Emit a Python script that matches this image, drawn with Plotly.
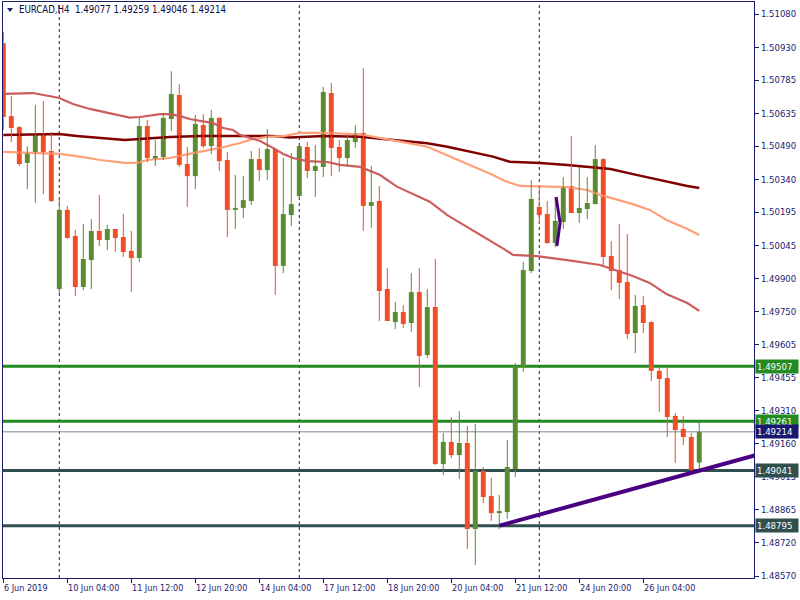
import plotly.graph_objects as go

# ---------------- data ----------------
opens = [1.50950, 1.50624, 1.50575, 1.50415, 1.50459, 1.50544, 1.50468, 1.49852, 1.50205, 1.50089,
         1.49861, 1.49981, 1.50111, 1.50071, 1.50120, 1.50084, 1.50022, 1.49990, 1.50580, 1.50432,
         1.50441, 1.50611, 1.50718, 1.50410, 1.50356, 1.50584, 1.50490, 1.50616, 1.50428, 1.50205,
         1.50214, 1.50245, 1.50432, 1.50383, 1.50477, 1.49955, 1.50182, 1.50267, 1.50486, 1.50379,
         1.50397, 1.50727, 1.50486, 1.50437, 1.50508, 1.50549, 1.50223, 1.50245, 1.49852, 1.49704,
         1.49749, 1.49700, 1.49838, 1.49557, 1.49771, 1.49070, 1.49169, 1.49110, 1.49164, 1.48780,
         1.49039, 1.48927, 1.48851, 1.48856, 1.49048, 1.49503, 1.49932, 1.50218, 1.50187, 1.50057,
         1.50151, 1.50312, 1.50191, 1.50209, 1.50231, 1.50432, 1.49999, 1.49937, 1.49883, 1.49655,
         1.49780, 1.49704, 1.49486, 1.49454, 1.49285, 1.49227, 1.49191, 1.49077]
highs = [1.51000, 1.50714, 1.50580, 1.50490, 1.50674, 1.50691, 1.50553, 1.50258, 1.50223, 1.50115,
         1.50142, 1.50164, 1.50272, 1.50138, 1.50120, 1.50187, 1.50111, 1.50620, 1.50607, 1.50517,
         1.50638, 1.50825, 1.50767, 1.50486, 1.50629, 1.50633, 1.50651, 1.50620, 1.50464, 1.50361,
         1.50356, 1.50468, 1.50482, 1.50566, 1.50482, 1.50437, 1.50459, 1.50495, 1.50508, 1.50495,
         1.50754, 1.50772, 1.50517, 1.50544, 1.50584, 1.50839, 1.50401, 1.50312, 1.49946, 1.49794,
         1.49780, 1.49923, 1.49946, 1.49852, 1.49986, 1.49209, 1.49280, 1.49307, 1.49240, 1.49249,
         1.49057, 1.49008, 1.48932, 1.49177, 1.49521, 1.49972, 1.50339, 1.50312, 1.50245, 1.50263,
         1.50352, 1.50535, 1.50397, 1.50352, 1.50495, 1.50437, 1.50066, 1.50142, 1.50097, 1.49825,
         1.49821, 1.49709, 1.49503, 1.49503, 1.49298, 1.49285, 1.49209, 1.49259]
lows = [1.50562, 1.50508, 1.50401, 1.50298, 1.50236, 1.50276, 1.50240, 1.49834, 1.50075, 1.49821,
        1.49847, 1.49852, 1.50044, 1.50026, 1.50017, 1.49995, 1.49838, 1.49972, 1.50419, 1.50401,
        1.50428, 1.50557, 1.50397, 1.50218, 1.50298, 1.50482, 1.50455, 1.50379, 1.50084, 1.50120,
        1.50169, 1.50227, 1.50334, 1.50339, 1.49825, 1.49923, 1.50133, 1.50258, 1.50348, 1.50263,
        1.50352, 1.50356, 1.50374, 1.50397, 1.50482, 1.50111, 1.50124, 1.49709, 1.49709, 1.49673,
        1.49678, 1.49660, 1.49414, 1.49544, 1.49066, 1.49021, 1.49097, 1.49003, 1.48691, 1.48619,
        1.48896, 1.48816, 1.48780, 1.48825, 1.49012, 1.49481, 1.49923, 1.50142, 1.50053, 1.50039,
        1.50120, 1.50191, 1.50147, 1.50164, 1.50231, 1.49955, 1.49847, 1.49807, 1.49629, 1.49566,
        1.49655, 1.49441, 1.49303, 1.49191, 1.49075, 1.49155, 1.49030, 1.49046]
closes = [1.50620, 1.50571, 1.50410, 1.50459, 1.50540, 1.50464, 1.50245, 1.50205, 1.50080, 1.49861,
          1.49986, 1.50111, 1.50071, 1.50120, 1.50080, 1.50017, 1.49990, 1.50580, 1.50437, 1.50446,
          1.50616, 1.50723, 1.50406, 1.50356, 1.50589, 1.50490, 1.50616, 1.50423, 1.50205, 1.50214,
          1.50249, 1.50432, 1.50383, 1.50477, 1.49955, 1.50187, 1.50231, 1.50490, 1.50379, 1.50401,
          1.50732, 1.50482, 1.50437, 1.50517, 1.50549, 1.50223, 1.50240, 1.49843, 1.49709, 1.49749,
          1.49696, 1.49838, 1.49553, 1.49771, 1.49070, 1.49169, 1.49110, 1.49164, 1.48780, 1.49039,
          1.48923, 1.48851, 1.48860, 1.49057, 1.49508, 1.49937, 1.50254, 1.50182, 1.50057, 1.50156,
          1.50312, 1.50191, 1.50214, 1.50236, 1.50432, 1.49995, 1.49932, 1.49879, 1.49651, 1.49776,
          1.49700, 1.49486, 1.49450, 1.49280, 1.49222, 1.49191, 1.49043, 1.49214]

x_tick_idx = [0, 8, 16, 24, 32, 40, 48, 56, 64, 72, 80]
x_tick_text = ["6 Jun 2019", "10 Jun 04:00", "11 Jun 12:00", "12 Jun 20:00", "14 Jun 04:00",
               "17 Jun 12:00", "18 Jun 20:00", "20 Jun 04:00", "21 Jun 12:00", "24 Jun 20:00",
               "26 Jun 04:00"]
y_tick_vals = [1.51080, 1.50930, 1.50785, 1.50635, 1.50490, 1.50340, 1.50195, 1.50045, 1.49900,
               1.49750, 1.49605, 1.49455, 1.49310, 1.49160, 1.49015, 1.48865, 1.48720, 1.48570]
week_sep_idx = [7, 37, 67]

ma_fast_x = [0, 3.7, 7, 8.7, 10.8, 13.7, 15.2, 15.8, 17.1, 19.6, 20.8, 22.1, 23.3, 24.6, 26.2, 27.5,
             28.7, 29.6, 32.1, 33.7, 35, 36.2, 38, 40.5, 42.1, 44.6, 47.1, 49.2, 51.2, 53.3, 55.5,
             58.3, 61.2, 62.7, 63.7, 66.7, 70.5, 74.6, 78.7, 80.8, 82.9, 85.5, 87]
ma_fast_y = [1.50723, 1.50727, 1.50705, 1.50678, 1.50656, 1.50633, 1.50620, 1.50617, 1.50620, 1.50633,
             1.50633, 1.50624, 1.50611, 1.50602, 1.50593, 1.50571, 1.50562, 1.50540, 1.50513, 1.50482,
             1.50455, 1.50437, 1.50423, 1.50419, 1.50406, 1.50397, 1.50361, 1.50309, 1.50276, 1.50242,
             1.50182, 1.50123, 1.50063, 1.50028, 1.50004, 1.49999, 1.49981, 1.49959, 1.49910, 1.49879,
             1.49829, 1.49789, 1.49754]
ma_mid_x = [0, 3.7, 7, 10, 12.1, 15.2, 16.7, 18, 20.8, 23.7, 27.1, 29.6, 31.2, 33, 35, 37.1, 40,
            44.6, 47.1, 49.6, 53, 55.5, 58.3, 61.2, 62.7, 64.6, 70.5, 73, 74.6, 78.7, 80.8, 82.9,
            85.5, 87]
ma_mid_y = [1.50464, 1.50459, 1.50455, 1.50441, 1.50428, 1.50415, 1.50415, 1.50428, 1.50437, 1.50459,
            1.50482, 1.50504, 1.50522, 1.50531, 1.50535, 1.50549, 1.50549, 1.50543, 1.50528, 1.50510,
            1.50487, 1.50450, 1.50406, 1.50361, 1.50334, 1.50312, 1.50307, 1.50294, 1.50272, 1.50231,
            1.50205, 1.50160, 1.50120, 1.50093]
ma_slow_x = [0, 3.7, 7, 9.2, 12.1, 15.2, 20.8, 24.6, 30.2, 33.7, 35.8, 38, 40, 44.6, 47.1, 49.6, 53,
             55.5, 58.3, 61.2, 63.3, 67.1, 70.5, 73.7, 75.9, 78.7, 80.8, 82.9, 85.5, 87]
ma_slow_y = [1.50540, 1.50541, 1.50544, 1.50535, 1.50526, 1.50517, 1.50531, 1.50535, 1.50535, 1.50535,
             1.50528, 1.50531, 1.50535, 1.50532, 1.50523, 1.50513, 1.50503, 1.50487, 1.50465, 1.50443,
             1.50420, 1.50415, 1.50406, 1.50397, 1.50388, 1.50365, 1.50348, 1.50334, 1.50312, 1.50303]

green_levels = [1.49507, 1.49261]
slate_levels = [1.49041, 1.48795]
bid_level = 1.49214
trend_x = [62, 94]
trend_y = [1.48795, 1.49109]
mark_x = [69.1, 69.6, 69.2]
mark_y = [1.50263, 1.50147, 1.50044]
header_text = "EURCAD,H4  1.49077 1.49259 1.49046 1.49214"

# ---------------- styling ----------------
W, H = 800, 600
ML, MR, MT, MB = 3, 46, 2, 22
BULL = "#5b8c32"
BEAR = "#f04e28"
NAVY = "#1b1b6e"
FONT = "DejaVu Sans Condensed, DejaVu Sans, sans-serif"
X_RANGE = [-0.04, 93.84]
Y_RANGE = [1.485612, 1.511336]


def px_to_paper_x(px):
    return (px - ML) / (W - ML - MR)


def px_to_paper_y(py):
    return (H - MB - py) / (H - MT - MB)


fig = go.Figure()

# moving averages (drawn under candles)
fig.add_trace(go.Scatter(x=ma_slow_x, y=ma_slow_y, mode="lines",
                         line=dict(color="#800000", width=2.5), hoverinfo="skip"))
fig.add_trace(go.Scatter(x=ma_mid_x, y=ma_mid_y, mode="lines",
                         line=dict(color="#ffa07a", width=2.2), hoverinfo="skip"))
fig.add_trace(go.Scatter(x=ma_fast_x, y=ma_fast_y, mode="lines",
                         line=dict(color="#cd5c5c", width=2.2), hoverinfo="skip"))

# candles: wicks then bodies
for is_bull, col in ((True, BULL), (False, BEAR)):
    wx, wy, bx, bb, bh = [], [], [], [], []
    for i, (o, h, l, c) in enumerate(zip(opens, highs, lows, closes)):
        if (c >= o) != is_bull:
            continue
        wx += [i, i, None]
        wy += [l, h, None]
        bx.append(i)
        bb.append(min(o, c))
        bh.append(max(abs(c - o), 0.00003))
    fig.add_trace(go.Scatter(x=wx, y=wy, mode="lines", line=dict(color=col, width=1),
                             hoverinfo="skip"))
    fig.add_trace(go.Bar(x=bx, y=bh, base=bb, width=0.62, marker=dict(color=col, line=dict(width=0)),
                         hoverinfo="skip"))

shapes = []
for s in week_sep_idx:
    shapes.append(dict(type="line", xref="x", yref="paper", x0=s, x1=s, y0=0, y1=1,
                       line=dict(color=NAVY, width=1, dash="3px,3px"), layer="below"))
for lv in green_levels:
    shapes.append(dict(type="line", xref="paper", yref="y", x0=0, x1=1, y0=lv, y1=lv,
                       line=dict(color="#228b22", width=3), layer="below"))
for lv in slate_levels:
    shapes.append(dict(type="line", xref="paper", yref="y", x0=0, x1=1, y0=lv, y1=lv,
                       line=dict(color="#2f4f4f", width=3), layer="below"))
shapes.append(dict(type="line", xref="paper", yref="y", x0=0, x1=1, y0=bid_level, y1=bid_level,
                   line=dict(color="#778899", width=1), layer="below"))
shapes.append(dict(type="line", xref="x", yref="y", x0=trend_x[0], x1=trend_x[1],
                   y0=trend_y[0], y1=trend_y[1], line=dict(color="#4b0082", width=4), layer="above"))
# header triangle
tx0, tx1, ty0, ty1 = px_to_paper_x(7), px_to_paper_x(13), px_to_paper_y(8), px_to_paper_y(12)
shapes.append(dict(type="path", xref="paper", yref="paper",
                   path=f"M {tx0} {ty0} L {tx1} {ty0} L {(tx0 + tx1) / 2} {ty1} Z",
                   fillcolor=NAVY, line=dict(width=0)))

fig.add_trace(go.Scatter(x=mark_x, y=mark_y, mode="lines", line=dict(color="#4b0082", width=3),
                         hoverinfo="skip"))

annotations = []
annotations.append(dict(xref="paper", yref="paper", x=px_to_paper_x(17), y=px_to_paper_y(10),
                        xanchor="left", yanchor="middle", text=header_text, showarrow=False,
                        font=dict(family=FONT, size=9.6, color="#0a0a40")))
for idx, txt in zip(x_tick_idx, x_tick_text):
    annotations.append(dict(xref="x", yref="paper", x=idx, y=0, xanchor="left", yanchor="top",
                            xshift=-1, yshift=-3, text=txt, showarrow=False,
                            font=dict(family=FONT, size=9, color=NAVY)))
for lv, bg in ((green_levels[0], "#228b22"), (green_levels[1], "#228b22"), (bid_level, "#191970"),
               (slate_levels[0], "#2f4f4f"), (slate_levels[1], "#2f4f4f")):
    annotations.append(dict(xref="paper", yref="y", x=1, y=lv, xanchor="left", yanchor="middle",
                            xshift=1, text=f"{lv:.5f}", showarrow=False, bgcolor=bg,
                            width=40, height=11, align="left", borderpad=1,
                            font=dict(family=FONT, size=9.5, color="white")))

fig.update_layout(
    width=W, height=H,
    margin=dict(l=ML, r=MR, t=MT, b=MB),
    paper_bgcolor="white", plot_bgcolor="white",
    showlegend=False, barmode="overlay",
    shapes=shapes, annotations=annotations,
    xaxis=dict(range=X_RANGE, showgrid=False, zeroline=False, showline=True, mirror=True,
               linecolor=NAVY, linewidth=1, tickmode="array", tickvals=x_tick_idx,
               ticktext=["" for _ in x_tick_idx], ticks="outside", ticklen=4, tickcolor=NAVY),
    yaxis=dict(range=Y_RANGE, side="right", showgrid=False, zeroline=False, showline=True,
               mirror=True, linecolor=NAVY, linewidth=1, tickmode="array", tickvals=y_tick_vals,
               ticktext=[f"{v:.5f}" for v in y_tick_vals], ticks="outside", ticklen=4,
               tickcolor=NAVY, tickfont=dict(family=FONT, size=9.5, color=NAVY)),
)

fig.write_html("out.html", config={"displayModeBar": False},
               post_script="document.body.style.margin='0px';document.body.style.overflow='hidden';")
